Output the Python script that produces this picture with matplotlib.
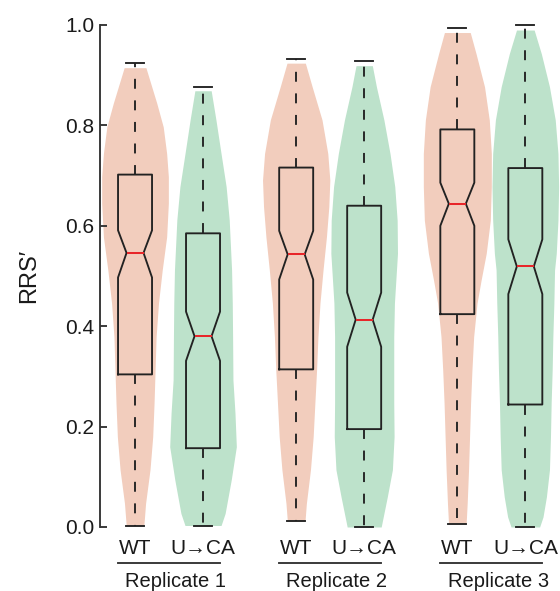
import matplotlib.pyplot as plt
import matplotlib.transforms as mtransforms

plt.rcParams['font.family'] = ['Liberation Sans', 'DejaVu Sans']

# ---------------------------------------------------------------------------
# Data
# ---------------------------------------------------------------------------

groups = ['Replicate 1', 'Replicate 2', 'Replicate 3']
conditions = ['WT', 'U\u2192CA']
yticks = [0.0, 0.2, 0.4, 0.6, 0.8, 1.0]

# box summaries, order: WT1, U->CA1, WT2, U->CA2, WT3, U->CA3
whislo = [0.002, 0.002, 0.011, 0.000, 0.006, 0.000]
q1     = [0.304, 0.157, 0.314, 0.195, 0.424, 0.244]
cilo   = [0.497, 0.331, 0.493, 0.359, 0.600, 0.464]
med    = [0.546, 0.380, 0.543, 0.413, 0.644, 0.519]
cihi   = [0.591, 0.429, 0.590, 0.467, 0.686, 0.573]
q3     = [0.702, 0.585, 0.716, 0.640, 0.792, 0.715]
whishi = [0.925, 0.877, 0.932, 0.929, 0.995, 0.999]

# violin density profiles (relative density at each RRS' level)
wt1_y = [0.003, 0.047, 0.114, 0.180, 0.247, 0.313, 0.379, 0.446, 0.512, 0.578, 0.645, 0.698, 0.744, 0.797, 0.844, 0.915]
wt1_d = [0.26, 0.31, 0.44, 0.52, 0.56, 0.59, 0.62, 0.69, 0.80, 0.93, 0.98, 0.98, 0.93, 0.83, 0.64, 0.32]

ca1_y = [0.003, 0.027, 0.094, 0.160, 0.227, 0.293, 0.379, 0.446, 0.512, 0.612, 0.678, 0.744, 0.811, 0.869]
ca1_d = [0.53, 0.65, 0.83, 0.98, 0.94, 0.88, 0.87, 0.86, 0.84, 0.77, 0.68, 0.53, 0.38, 0.24]

wt2_y = [0.012, 0.047, 0.114, 0.180, 0.247, 0.313, 0.379, 0.446, 0.512, 0.578, 0.638, 0.691, 0.744, 0.811, 0.877, 0.924]
wt2_d = [0.26, 0.30, 0.42, 0.50, 0.55, 0.60, 0.64, 0.70, 0.79, 0.89, 0.96, 0.99, 0.93, 0.76, 0.47, 0.27]

ca2_y = [0.000, 0.020, 0.060, 0.114, 0.180, 0.247, 0.313, 0.379, 0.446, 0.512, 0.545, 0.611, 0.678, 0.744, 0.811, 0.877, 0.919]
ca2_d = [0.50, 0.56, 0.68, 0.83, 0.88, 0.87, 0.87, 0.87, 0.89, 0.95, 0.98, 0.97, 0.90, 0.76, 0.58, 0.36, 0.24]

wt3_y = [0.008, 0.047, 0.114, 0.180, 0.247, 0.313, 0.379, 0.446, 0.492, 0.545, 0.611, 0.678, 0.744, 0.811, 0.877, 0.943, 0.985]
wt3_d = [0.26, 0.29, 0.33, 0.36, 0.39, 0.43, 0.48, 0.58, 0.70, 0.85, 0.97, 1.00, 1.00, 0.94, 0.80, 0.55, 0.38]

ca3_y = [0.000, 0.020, 0.060, 0.114, 0.180, 0.247, 0.313, 0.379, 0.446, 0.512, 0.545, 0.611, 0.678, 0.744, 0.811, 0.877, 0.943, 0.990]
ca3_d = [0.42, 0.52, 0.62, 0.71, 0.74, 0.76, 0.79, 0.81, 0.84, 0.86, 0.91, 0.96, 0.98, 0.96, 0.88, 0.71, 0.47, 0.26]

violin_y = [wt1_y, ca1_y, wt2_y, ca2_y, wt3_y, ca3_y]
violin_d = [wt1_d, ca1_d, wt2_d, ca2_d, wt3_d, ca3_d]

# ---------------------------------------------------------------------------
# Plot
# ---------------------------------------------------------------------------

colors = ['#F2CDBD', '#BDE2CB']
line_col = '#222222'
group_step = 2.37
positions = [g * group_step + c for g in range(len(groups)) for c in range(len(conditions))]

fig = plt.figure(figsize=(5.6, 5.91), dpi=100)
ax = fig.add_axes([0.1786, 0.1049, 0.8214, 0.8562])

# violins
for i, (pos, ys, ds) in enumerate(zip(positions, violin_y, violin_d)):
    half = [d * 0.5 for d in ds]
    ax.fill_betweenx(ys, [pos - h for h in half], [pos + h for h in half],
                     color=colors[i % 2], lw=0, zorder=1)

# notched boxes
stats = []
for i in range(len(positions)):
    stats.append(dict(med=med[i], q1=q1[i], q3=q3[i], cilo=cilo[i], cihi=cihi[i],
                      whislo=whislo[i], whishi=whishi[i], fliers=[]))

lw = 1.35
ax.bxp(stats, positions=positions, widths=0.5, shownotches=True,
       showfliers=False, manage_ticks=False, capwidths=0.26,
       boxprops=dict(color=line_col, lw=lw),
       whiskerprops=dict(color=line_col, lw=lw, linestyle=(0, (5.3, 6.2))),
       capprops=dict(color=line_col, lw=lw),
       medianprops=dict(color='#E8262A', lw=lw + 0.1),
       zorder=3)

ax.set_xlim(-0.515, 6.25)
ax.set_ylim(-0.004, 1.004)

for side in ['top', 'right', 'bottom']:
    ax.spines[side].set_visible(False)
ax.spines['left'].set_bounds(0, 1)
ax.spines['left'].set_color('#333333')
ax.spines['left'].set_linewidth(lw)

ax.set_yticks(yticks)
ax.set_yticklabels([f'{v:.1f}' for v in yticks])
ax.tick_params(axis='y', direction='in', length=4.7, width=lw, colors='#333333',
               labelcolor='#1a1a1a', labelsize=15, pad=4)

ax.set_xticks(positions)
ax.set_xticklabels(conditions * len(groups))
ax.tick_params(axis='x', length=0, labelsize=15, labelcolor='#1a1a1a', pad=7)

ax.set_ylabel('RRS\u2032', fontsize=17, color='#1a1a1a')
ax.yaxis.set_label_coords(-0.13, 0.5)

# replicate brackets under the condition labels
trans = mtransforms.blended_transform_factory(ax.transData, fig.transFigure)
for g, name in enumerate(groups):
    x0 = positions[2 * g] - 0.25
    x1 = positions[2 * g + 1] + 0.25
    ax.plot([x0, x1], [0.0469, 0.0469], color='#333333', lw=lw,
            transform=trans, clip_on=False)
    ax.text((x0 + x1) / 2 + 0.1, 0.006, name, transform=trans,
            ha='center', va='baseline', fontsize=14.5, color='#1a1a1a')

fig.savefig('out.png', dpi=100)
